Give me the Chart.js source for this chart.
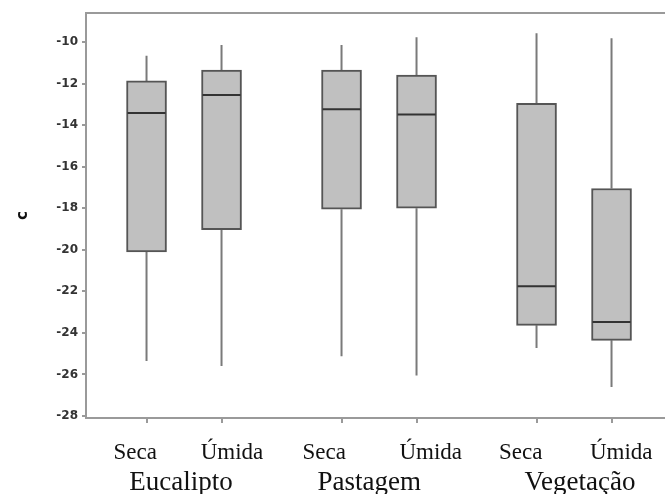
<!DOCTYPE html>
<html>
<head>
<meta charset="utf-8">
<script src="https://cdn.jsdelivr.net/npm/chart.js@4.4.1/dist/chart.umd.min.js"></script>
<style>
  body { margin: 0; background: #fff; }
  #wrap { width: 665px; height: 494px; }
</style>
</head>
<body>
<div id="wrap"><canvas id="boxChart"></canvas></div>
<script>
// categories
const groups = ["Eucalipto", "Pastagem", "Vegetação"];
const seasons = ["Seca", "Úmida", "Seca", "Úmida", "Seca", "Úmida"];
const boxPos = [1, 2, 3.6, 4.6, 6.2, 7.2];

// box values
const whiskerHigh = [-10.66, -10.14, -10.14, -9.77, -9.58, -9.82];
const q3 = [-11.87, -11.35, -11.35, -11.59, -12.95, -17.05];
const median = [-13.41, -12.55, -13.24, -13.49, -21.76, -23.48];
const q1 = [-20.1, -19.03, -18.05, -18.0, -23.64, -24.36];
const whiskerLow = [-25.36, -25.6, -25.13, -26.05, -24.73, -26.61];

// tick labels
const yTicks = [-10, -12, -14, -16, -18, -20, -22, -24, -26, -28];

// where the text labels sit under the axis
const seasonLabelPos = [0.85, 2.14, 3.37, 4.79, 5.99, 7.33];
const groupLabelPos = [1.46, 3.97, 6.78];

const xMin = 0.193;
const xMax = 7.913;
const axisGrey = "#9a9a9a";

var whiskerData = [];
boxPos.forEach(function (p, i) {
	whiskerData.push({ x: p, y: whiskerHigh[i] });
	whiskerData.push({ x: p, y: q3[i] });
	whiskerData.push({ x: p, y: null });
	whiskerData.push({ x: p, y: q1[i] });
	whiskerData.push({ x: p, y: whiskerLow[i] });
	whiskerData.push({ x: p, y: null });
});

// no auto padding from tick labels, the frame is placed by hand
function noPad(scale) {
	scale.paddingLeft = 0;
	scale.paddingRight = 0;
	scale.paddingTop = 0;
	scale.paddingBottom = 0;
}

var boxChart = new Chart(document.getElementById("boxChart"), {
	type: "bar",
	data: {
		datasets: [
			{
				type: "line",
				data: whiskerData,
				borderColor: "#7a7a7a",
				borderWidth: 2,
				pointRadius: 0,
				spanGaps: false,
				order: 3,
			},
			{
				type: "bar",
				data: boxPos.map((p, i) => ({ x: p, y: [q1[i], q3[i]] })),
				backgroundColor: "#c0c0c0",
				borderColor: "#555555",
				borderWidth: 2,
				borderSkipped: false,
				barThickness: 40,
				order: 2,
			},
			{
				type: "line",
				data: boxPos.map((p, i) => ({ x: p, y: median[i] })),
				showLine: false,
				pointStyle: "line",
				pointRadius: 19,
				pointBorderWidth: 2,
				pointBorderColor: "#333333",
				order: 1,
			},
		],
	},
	options: {
		responsive: true,
		maintainAspectRatio: false,
		animation: false,
		layout: { autoPadding: false, padding: { left: 14, top: 13, right: 0, bottom: 0 } },
		plugins: {
			legend: { display: false },
			tooltip: { enabled: false },
		},
		scales: {
			x: {
				type: "linear",
				position: "bottom",
				offset: false,
				weight: 0,
				min: xMin,
				max: xMax,
				afterBuildTicks: (scale) => {
					scale.ticks = boxPos.map((v) => ({ value: v }));
				},
				afterFit: (scale) => {
					scale.height = 5;
					noPad(scale);
				},
				ticks: { display: false },
				grid: { offset: false, drawOnChartArea: false, tickLength: 5, color: axisGrey, lineWidth: 2 },
				border: { color: axisGrey, width: 2 },
			},
			xs: {
				type: "linear",
				position: "bottom",
				offset: false,
				weight: 1,
				min: xMin,
				max: xMax,
				afterBuildTicks: (scale) => {
					scale.ticks = seasonLabelPos.map((v) => ({ value: v }));
				},
				afterFit: (scale) => {
					scale.height = 44;
					noPad(scale);
				},
				ticks: {
					autoSkip: false,
					maxRotation: 0,
					padding: 16,
					color: "#111",
					font: { family: "'Liberation Serif', 'Times New Roman', serif", size: 23 },
					callback: (value, index) => seasons[index],
				},
				grid: { display: false, drawTicks: false },
				border: { display: false },
			},
			xg: {
				type: "linear",
				position: "bottom",
				offset: false,
				weight: 2,
				min: xMin,
				max: xMax,
				afterBuildTicks: (scale) => {
					scale.ticks = groupLabelPos.map((v) => ({ value: v }));
				},
				afterFit: (scale) => {
					scale.height = 27;
					noPad(scale);
				},
				ticks: {
					autoSkip: false,
					maxRotation: 0,
					padding: 0,
					color: "#111",
					font: { family: "'Liberation Serif', 'Times New Roman', serif", size: 27 },
					callback: (value, index) => groups[index],
				},
				grid: { display: false, drawTicks: false },
				border: { display: false },
			},
			xt: {
				type: "linear",
				position: "top",
				offset: false,
				min: xMin,
				max: xMax,
				afterFit: (scale) => {
					scale.height = 0;
					noPad(scale);
				},
				ticks: { display: false },
				grid: { display: false, drawTicks: false },
				border: { color: axisGrey, width: 2 },
			},
			y: {
				type: "linear",
				min: -28.1,
				max: -8.6,
				afterBuildTicks: (scale) => {
					scale.ticks = yTicks.map((v) => ({ value: v }));
				},
				afterFit: (scale) => {
					scale.width = 72;
					noPad(scale);
				},
				ticks: {
					padding: 4,
					color: "#333",
					font: { family: "'DejaVu Sans', sans-serif", size: 12, weight: "bold" },
					callback: (value) => String(value),
				},
				grid: { drawOnChartArea: false, tickLength: 4, color: axisGrey, lineWidth: 2 },
				border: { color: axisGrey, width: 2 },
				title: {
					display: true,
					text: "c",
					color: "#111",
					padding: 0,
					font: { family: "'DejaVu Sans', sans-serif", size: 15, weight: "bold" },
				},
			},
		},
	},
});
</script>
</body>
</html>
